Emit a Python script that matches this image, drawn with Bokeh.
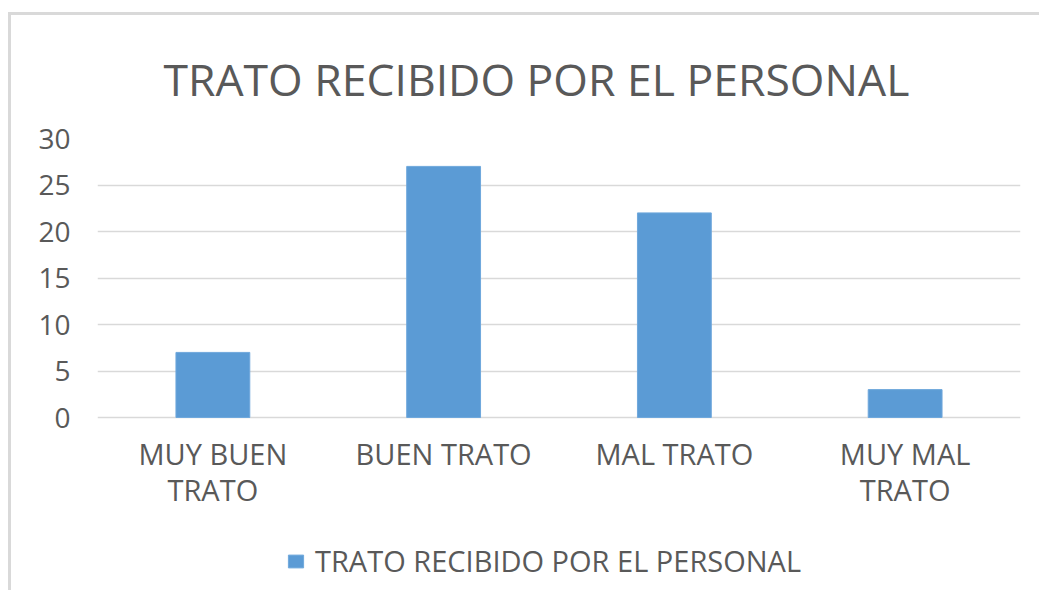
from bokeh.plotting import figure
from bokeh.models import FixedTicker, Legend, LegendItem, ColumnDataSource, Range1d
from bokeh.core.properties import value
from bokeh.embed import file_html
from bokeh.resources import INLINE

categories = ["MUY BUEN\nTRATO", "BUEN TRATO", "MAL TRATO", "MUY MAL\nTRATO"]
values = [7, 27, 22, 3]
y_ticks = [0, 5, 10, 15, 20, 25, 30]
series_name = "TRATO RECIBIDO POR EL PERSONAL"
title_text = "TRATO RECIBIDO POR EL PERSONAL"

FONT = "Open Sans"
TXT = "#595959"
GRID = "#d9d9d9"

# plotting area extends below zero to host category labels and legend
Y_MAX = 30
Y_MIN = -18.6
LABEL_Y = -1.75

src = ColumnDataSource(dict(cat=categories, val=values))

p = figure(x_range=categories, y_range=Range1d(Y_MIN, Y_MAX), frame_width=923, frame_height=452,
           output_backend="svg", toolbar_location=None,
           min_border_left=86, min_border_right=19, min_border_top=123, min_border_bottom=0)
p.styles = {"margin-top": "12px", "margin-left": "8px",
            "border-top": "3px solid #d9d9d9", "border-left": "3px solid #d9d9d9"}

r = p.vbar(x="cat", top="val", width=0.32, source=src, fill_color="#5b9bd5", line_color="#6fa8dc")

p.text(x="cat", y=LABEL_Y, text="cat", source=src, text_align="center", text_baseline="top",
       text_font=value(FONT), text_font_size="29px", text_color=TXT, text_line_height=0.93)

p.title.text = title_text
p.title.text_font = FONT
p.title.text_font_size = "44.5px"
p.title.text_font_style = "normal"
p.title.text_color = TXT
p.title.align = "left"
p.title.offset = 66
p.title.standoff = 60

p.outline_line_color = None
p.background_fill_color = "white"
p.border_fill_color = "white"
p.xgrid.grid_line_color = None
p.ygrid.grid_line_color = GRID
p.ygrid.grid_line_width = 1.5
p.yaxis.ticker = FixedTicker(ticks=y_ticks)

p.yaxis.axis_line_color = None
p.yaxis.major_tick_line_color = None
p.yaxis.minor_tick_line_color = None
p.yaxis.major_tick_out = 0
p.yaxis.major_tick_in = 0
p.yaxis.major_label_standoff = 27
p.yaxis.major_label_text_font = FONT
p.yaxis.major_label_text_font_size = "28px"
p.yaxis.major_label_text_color = TXT

p.xaxis.visible = False

legend = Legend(items=[LegendItem(label=series_name, renderers=[r])],
                location=(189, 10), orientation="horizontal",
                glyph_width=19, glyph_height=16, label_standoff=10,
                label_text_font=FONT, label_text_font_size="29px", label_text_color=TXT,
                border_line_color=None, background_fill_alpha=0, padding=0, margin=0)
p.add_layout(legend, "center")

open("out.html", "w").write(file_html(p, INLINE))
